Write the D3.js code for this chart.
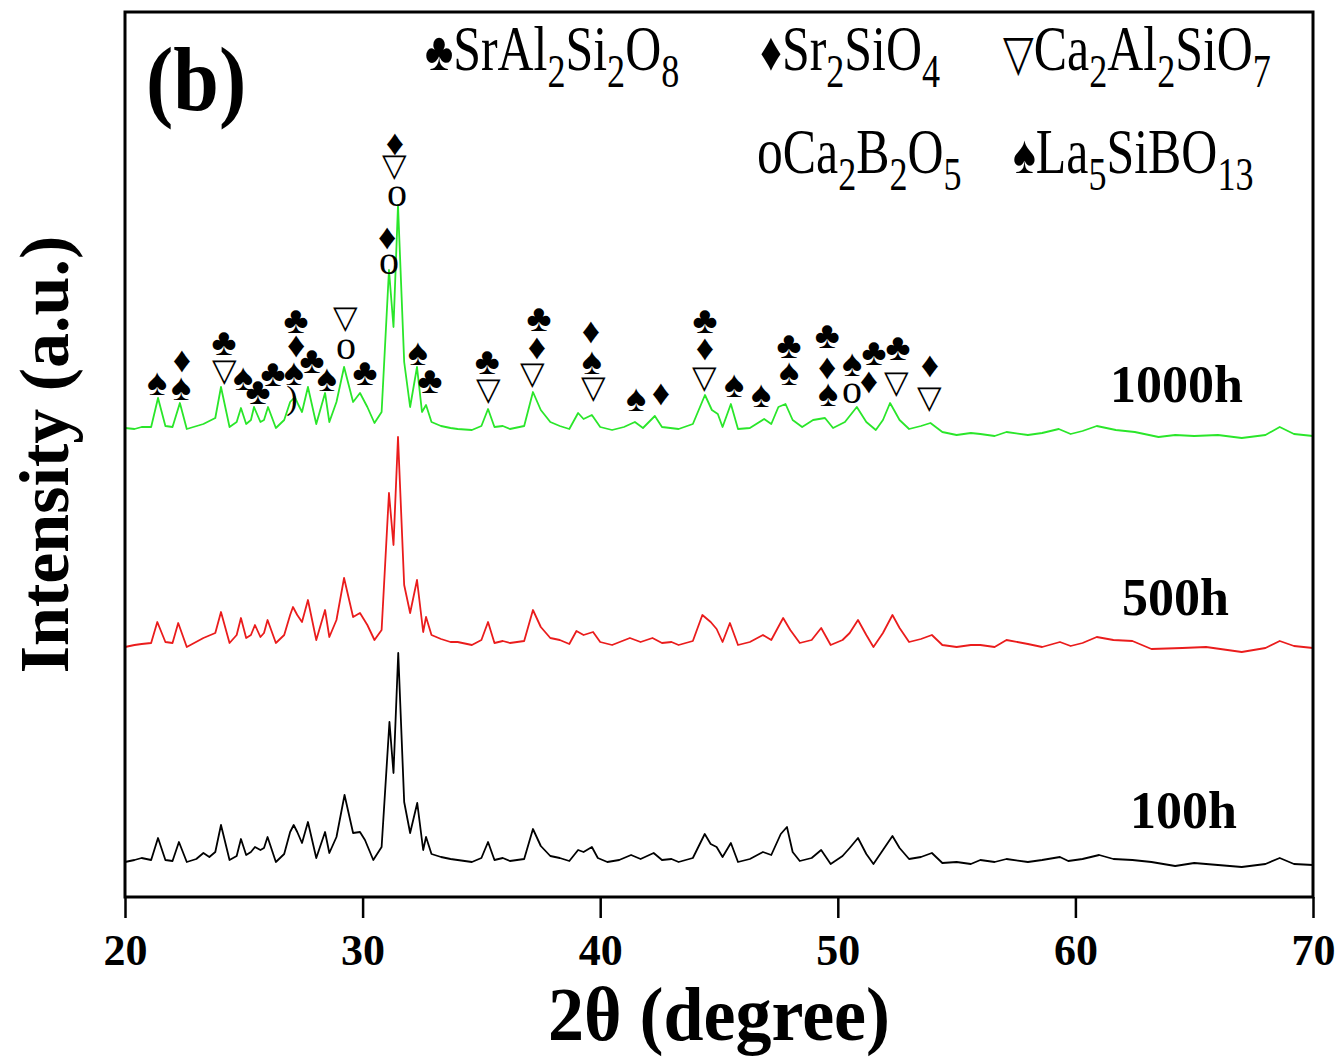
<!DOCTYPE html>
<html>
<head>
<meta charset="utf-8">
<script src="https://cdn.jsdelivr.net/npm/d3@7"></script>
<style>
body { margin: 0; background: #fff; }
text { font-family: "Liberation Serif", "Times New Roman", serif; }
</style>
</head>
<body>
<svg id="chart" width="1343" height="1057"></svg>
<script>
// tick labels on the 2theta axis
var xTicks = [20, 30, 40, 50, 60, 70];

// samples, bottom to top
var sampleNames = ["100h", "500h", "1000h"];
var sampleColors = ["#000000", "#ea1c1c", "#2ae62a"];
var sampleOffsets = [35, 252, 465];

// patterns: [2theta, intensity above own baseline]
var xrd100h = [[20,0],[20.4,2],[20.7,4],[21.1,2],[21.39,24],[21.7,2],[22.0,1],[22.27,20],[22.6,0],[23.0,3],[23.3,9],[23.55,5],
  [23.8,10],[24.04,37],[24.4,2],[24.7,6],[24.88,23],[25.1,7],[25.3,10],[25.47,15],[25.7,12],[25.85,14],[26.0,25],
  [26.35,0],[26.7,8],[26.95,30],[27.1,37],[27.25,30],[27.45,19],[27.7,40],[28.05,4],[28.42,30],[28.6,9],[28.9,25],
  [29.24,67],[29.6,29],[29.89,30],[30.1,22],[30.45,2],[30.8,15],[31.13,140],[31.3,89],[31.5,209],[31.75,60],[32.0,29],
  [32.3,59],[32.55,12],[32.67,25],[32.9,8],[33.3,5],[33.7,3],[34.0,2],[34.6,0],[35.0,4],[35.28,20],[35.55,2],[35.9,4],[36.2,1],[36.8,3],
  [37.17,33],[37.5,16],[37.9,6],[38.3,4],[38.7,1],[39.07,12],[39.3,10],[39.65,15],[39.9,4],[40.3,0],[40.8,2],[41.3,7],
  [41.7,3],[42.25,9],[42.6,2],[43.0,3],[43.3,0],[43.9,4],[44.4,28],[44.65,18],[44.9,15],[45.15,5],[45.5,19],[45.8,0],[46.3,3],
  [46.85,10],[47.2,7],[47.6,28],[47.86,35],[48.1,10],[48.4,1],[48.9,4],[49.3,12],[49.7,-2],[50.2,6],[50.5,14],[50.85,24],
  [51.2,8],[51.5,-2],[51.9,12],[52.3,26],[52.6,14],[53.0,3],[53.5,5],[53.96,9],[54.4,-1],[55.0,0],[55.6,-2],[56.0,2],[56.6,0],[57.1,3],
  [58.0,0],[58.6,2],[59.35,5],[59.7,1],[60.3,3],[61.0,7],[61.6,3],[62.4,2],[63.2,0],[64.2,-4],[65.0,-1],[66.0,-3],[67.0,-5],[68.0,-2],[68.6,4],[69.2,-2],[70,-3]];

var xrd500h = [[20,-2],[20.4,0],[20.7,1],[21.1,2],[21.36,23],[21.7,3],[22.0,2],[22.24,22],[22.6,-2],[23.3,7],[23.8,12],[24.04,33],
  [24.4,2],[24.7,10],[24.88,27],[25.1,7],[25.3,10],[25.47,20],[25.7,8],[25.85,12],[26.0,25],[26.35,2],[26.7,10],[26.95,30],
  [27.07,38],[27.25,30],[27.45,23],[27.7,45],[28.05,5],[28.42,35],[28.6,8],[28.9,25],[29.22,67],[29.6,28],[29.89,32],
  [30.2,20],[30.5,5],[30.8,15],[31.11,152],[31.3,100],[31.49,208],[31.75,60],[32.0,32],[32.29,65],[32.55,13],[32.67,28],
  [32.9,10],[33.3,6],[33.7,3],[34.0,3],[34.6,0],[35.0,5],[35.28,23],[35.55,2],[35.9,4],[36.2,2],[36.8,4],[37.17,35],[37.5,18],[37.9,7],
  [38.3,5],[38.7,1],[39.0,14],[39.3,10],[39.7,13],[40.0,3],[40.5,0],[41.25,7],[41.7,3],[42.2,7],[42.6,2],[43.0,3],[43.3,0],
  [43.9,4],[44.3,30],[44.65,23],[44.9,16],[45.15,3],[45.46,22],[45.8,0],[46.3,3],[46.85,10],[47.2,5],[47.7,27],[48.0,15],
  [48.4,2],[48.9,5],[49.3,17],[49.7,0],[50.2,5],[50.5,12],[50.85,25],[51.2,10],[51.5,-2],[51.9,12],[52.3,30],[52.6,17],
  [53.0,3],[53.5,6],[53.96,10],[54.4,0],[55.0,-2],[55.6,0],[56.0,0],[56.6,-2],[57.1,5],[58.0,1],[58.6,-2],[59.35,3],[59.8,-1],[60.3,2],[60.9,8],[61.6,5],
  [62.4,4],[63.2,-4],[64.5,-3],[65.5,-2],[67.0,-7],[68.0,-3],[68.6,4],[69.2,-1],[70,-3]];

var xrd1000h = [[20,4],[20.4,3],[20.7,5],[21.1,5],[21.39,34],[21.7,6],[22.0,5],[22.31,29],[22.6,3],[23.3,8],[23.8,14],[24.04,45],
  [24.4,5],[24.7,10],[24.88,24],[25.1,8],[25.3,12],[25.43,25],[25.7,10],[25.85,12],[26.02,25],[26.35,4],[26.7,12],
  [26.95,30],[27.15,35],[27.3,27],[27.45,20],[27.7,45],[28.05,8],[28.42,39],[28.6,10],[28.9,30],[29.22,65],[29.6,30],
  [29.89,39],[30.2,25],[30.5,9],[30.8,20],[31.11,162],[31.3,105],[31.49,227],[31.75,70],[32.0,25],[32.29,65],[32.5,20],
  [32.67,27],[32.9,10],[33.3,6],[33.7,4],[34.0,3],[34.6,2],[35.0,6],[35.28,23],[35.55,5],[35.9,6],[36.2,3],[36.8,6],[37.17,40],[37.5,22],
  [37.9,10],[38.3,6],[38.7,3],[39.07,19],[39.3,13],[39.65,17],[40.0,5],[40.5,2],[41.0,5],[41.46,10],[41.8,4],[42.3,16],[42.6,5],
  [43.3,3],[43.9,8],[44.41,37],[44.7,22],[44.95,18],[45.15,5],[45.5,28],[45.8,3],[46.3,4],[46.9,13],[47.2,8],[47.5,25],
  [47.8,28],[48.1,12],[48.5,5],[48.96,12],[49.46,14],[49.8,4],[50.3,10],[50.8,25],[51.2,10],[51.6,2],[51.9,12],[52.2,29],
  [52.6,12],[53.0,3],[53.5,6],[53.9,9],[54.4,0],[55.0,-3],[55.6,-1],[56.0,-2],[56.6,-4],[57.1,0],[58.0,-3],[58.6,-1],[59.3,3],[59.8,-2],[60.3,1],[60.9,6],
  [61.7,2],[62.5,0],[63.5,-5],[64.2,-3],[65.0,-4],[66.0,-3],[67.0,-6],[68.0,-3],[68.6,5],[69.2,-2],[70,-4]];

var patterns = [xrd100h, xrd500h, xrd1000h];

// phase legend
var phaseSymbols = ["♣", "♦", "▽", "o", "♠"];
var phaseFormulas = ["SrAl2Si2O8", "Sr2SiO4", "Ca2Al2SiO7", "Ca2B2O5", "La5SiBO13"];

// peak marks over the 1000h pattern: [2theta, height (a.u.), symbol]
var peakMarks = [
  [21.35,515,"♠"],[22.40,537,"♦"],[22.36,510,"♠"],[24.17,555,"♣"],[24.17,527,"▽"],[24.97,520,"♠"],[25.60,506,"♣"],
  [26.23,524,"♣"],[27.20,577,"♣"],[27.20,552,"♦"],[27.11,525,"♠"],[27.03,500,")"],[27.87,537,"♣"],[28.50,519,"♠"],
  [29.30,580,"▽"],[29.30,552,"o"],[30.10,525,"♣"],[31.03,660,"♦"],[31.11,637,"o"],[31.36,754,"♦"],[31.36,732,"▽"],
  [31.45,705,"o"],[32.33,545,"♠"],[32.84,517,"♣"],[35.24,536,"♣"],[35.28,508,"▽"],[37.42,579,"♣"],[37.34,550,"♦"],
  [37.17,524,"▽"],[39.61,566,"♦"],[39.65,536,"♠"],[39.70,510,"▽"],[41.51,499,"♠"],[42.56,504,"♦"],[44.41,577,"♣"],
  [44.41,549,"♦"],[44.41,520,"▽"],[45.63,513,"♠"],[46.77,503,"♠"],[47.95,552,"♣"],[47.95,525,"♠"],[49.55,562,"♣"],
  [49.55,530,"♦"],[49.59,504,"♠"],[50.60,534,"♠"],[50.60,508,"o"],[51.52,545,"♣"],[51.31,516,"♦"],[52.53,550,"♣"],
  [52.49,515,"▽"],[53.88,532,"♦"],[53.88,500,"▽"]];

var symbolSize = {"♣": 38, "♦": 36, "♠": 38, "▽": 32, "o": 40, ")": 34};

var svg = d3.select("#chart");
var margin = {left: 125, right: 30, top: 12, bottom: 160};
var W = 1343, H = 1057;

var x = d3.scaleLinear().domain([20, 70]).range([margin.left, W - margin.right]);
var y = d3.scaleLinear().domain([0, 885]).range([H - margin.bottom, margin.top]);

// curves
patterns.forEach(function (p, i) {
  var off = sampleOffsets[i];
  var line = d3.line()
    .x(function (d) { return x(d[0]); })
    .y(function (d) { return y(d[1] + off); });
  svg.append("path")
    .attr("d", line(p))
    .attr("fill", "none")
    .attr("stroke", sampleColors[i])
    .attr("stroke-width", 1.8)
    .attr("stroke-linejoin", "round");
});

// sample labels
var labelY = [828, 615, 402];
var labelX = [1130, 1122, 1110];
sampleNames.forEach(function (s, i) {
  svg.append("text")
    .attr("x", labelX[i]).attr("y", labelY[i])
    .attr("font-size", 52).attr("font-weight", "bold")
    .text(s);
});

// peak marks
svg.append("g").selectAll("text")
  .data(peakMarks)
  .enter().append("text")
  .attr("x", function (d) { return x(d[0]); })
  .attr("y", function (d) { return y(d[1]); })
  .attr("text-anchor", "middle")
  .attr("dominant-baseline", "central")
  .attr("font-size", function (d) { return symbolSize[d[2]]; })
  .text(function (d) { return d[2]; });

// legend
var legendX = [425, 760, 1003, 757, 1013];
var legendY = [70, 70, 70, 173, 173];
phaseFormulas.forEach(function (f, i) {
  var t = svg.append("text")
    .attr("transform", "translate(" + legendX[i] + "," + legendY[i] + ") scale(0.86,1.08)")
    .attr("font-size", 58);
  var s = phaseSymbols[i];
  t.append("tspan").attr("font-size", s == "o" ? 60 : (s == "▽" ? 46 : 50)).text(s);
  var lastSub = false;
  f.match(/[A-Za-z]+|\d+/g).forEach(function (part) {
    if (/\d/.test(part)) {
      t.append("tspan").attr("font-size", 42).attr("dy", 16).text(part);
      lastSub = true;
    } else {
      t.append("tspan").attr("dy", lastSub ? -16 : 0).text(part);
      lastSub = false;
    }
  });
});

// panel letter
svg.append("text")
  .attr("transform", "translate(146,110) scale(1,1.1)")
  .attr("font-size", 82).attr("font-weight", "bold")
  .text("(b)");

// frame
svg.append("rect")
  .attr("x", x(20)).attr("y", y(885))
  .attr("width", x(70) - x(20)).attr("height", y(0) - y(885))
  .attr("fill", "none").attr("stroke", "#000").attr("stroke-width", 3);

// x axis
var xAxis = svg.append("g")
  .attr("transform", "translate(0," + y(0) + ")")
  .call(d3.axisBottom(x).tickValues(xTicks).tickSize(21).tickPadding(16).tickFormat(d3.format("d")));
xAxis.select(".domain").remove();
xAxis.selectAll("line").attr("stroke-width", 2.5);
xAxis.selectAll("text")
  .attr("font-size", 44).attr("font-weight", "bold")
  .attr("font-family", "Liberation Serif, serif");

svg.append("text")
  .attr("transform", "translate(" + (x(20) + x(70)) / 2 + ",1040) scale(1,1.05)")
  .attr("text-anchor", "middle")
  .attr("font-size", 72).attr("font-weight", "bold")
  .text("2θ (degree)");

svg.append("text")
  .attr("transform", "translate(68," + (y(0) + y(885)) / 2 + ") rotate(-90)")
  .attr("text-anchor", "middle")
  .attr("font-size", 70).attr("font-weight", "bold")
  .text("Intensity (a.u.)");
</script>
</body>
</html>
